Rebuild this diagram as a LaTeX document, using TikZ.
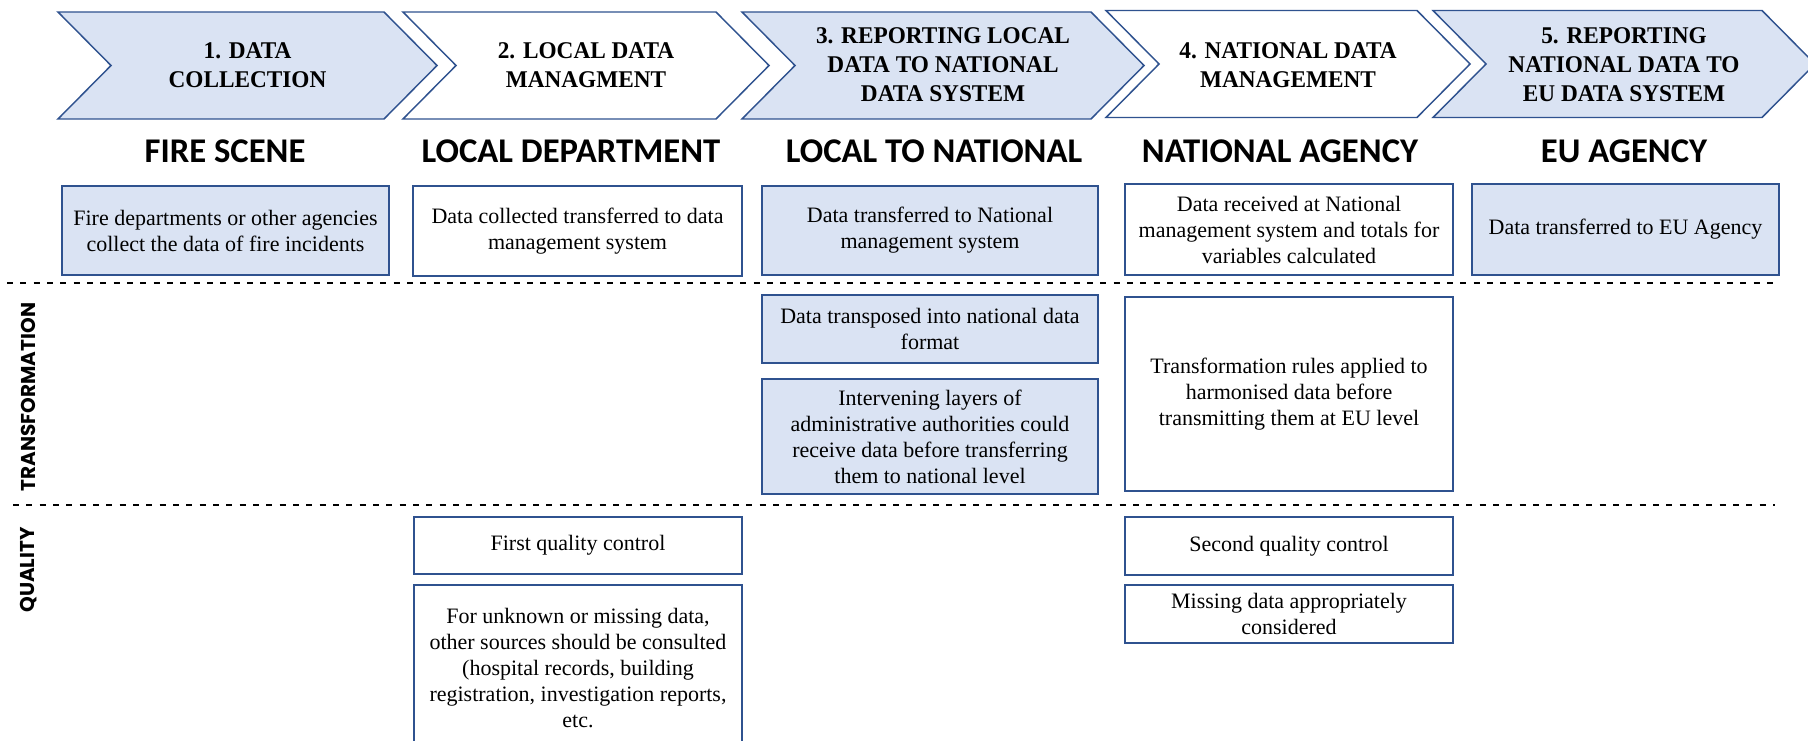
\documentclass[tikz,border=0pt]{standalone}
\usepackage{fontspec}
\setmainfont{Liberation Serif}[BoldFeatures={FakeStretch=0.97}]
\newfontfamily\headfont{Carlito}
\newfontfamily\sidefont{Poppins}
\definecolor{panelfill}{HTML}{DAE3F3}
\definecolor{paneldraw}{HTML}{2F528F}

% rectangular text panel given by its corners (in px)
\newcommand\panel[7]{%
  \pgfmathsetmacro\pw{(#4-#2)*0.75}%
  \pgfmathsetmacro\ph{(#5-#3)*0.75}%
  \node[panel, fill=#6, minimum width=\pw pt, minimum height=\ph pt]
    (#1) at ({(#2+#4)/2},{(#3+#5)/2}) {#7};%
}
% process chevron: name, left x, shoulder x, top y, bottom y, fill, label
\newcommand\chev[7]{%
  \pgfmathsetmacro\cmid{(#4+#5)/2}%
  \filldraw[chevline, fill=#6] (#2,#4) -- (#3,#4) -- ({#3+53},\cmid) -- (#3,#5)
    -- (#2,#5) -- ({#2+53},\cmid) -- cycle;
  \node[chevtext] (#1) at ({(#2+#3+53)/2},65) {#7};%
}

\tikzset{
  panel/.style={draw=paneldraw, line width=1.1pt, align=center, inner sep=0pt,
    font=\fontsize{16.5}{19.5}\selectfont},
  chevline/.style={draw=paneldraw, line width=1.1pt, line join=miter},
  chevtext/.style={align=center, inner sep=0pt,
    font=\fontsize{18}{21.75}\selectfont\bfseries},
  stage/.style={anchor=base, inner sep=0pt,
    font=\headfont\bfseries\fontsize{26}{30}\selectfont},
  sidelabel/.style={rotate=90, inner sep=0pt,
    font=\sidefont\bfseries\fontsize{15}{17}\selectfont},
  divider/.style={line width=0.9pt, dash pattern=on 4.5pt off 5.5pt},
}

\begin{document}
\begin{tikzpicture}[x=0.75pt, y=-0.75pt]
\useasboundingbox (0,0) rectangle (1808,741);
\clip (0,0) rectangle (1808,741);

% process steps
\chev{s1}{58}{384}{12}{119}{panelfill}{1. DATA\\COLLECTION}
\chev{s2}{403}{716}{12}{119}{white}{2. LOCAL DATA\\MANAGMENT}
\chev{s3}{742}{1091}{12}{119}{panelfill}{3. REPORTING LOCAL\\DATA TO NATIONAL\\DATA SYSTEM}
\chev{s4}{1106}{1417}{10.5}{117.5}{white}{4. NATIONAL DATA\\MANAGEMENT}
\chev{s5}{1433}{1762}{10.5}{117.5}{panelfill}{5. REPORTING\\NATIONAL DATA TO\\EU DATA SYSTEM}

% actors
\node[stage] (a1) at (225,163) {FIRE SCENE};
\node[stage] (a2) at (571,163) {LOCAL DEPARTMENT};
\node[stage] (a3) at (934,163) {LOCAL TO NATIONAL};
\node[stage] (a4) at (1280,163) {NATIONAL AGENCY};
\node[stage] (a5) at (1624,163) {EU AGENCY};

% main activities
\panel{m1}{62}{186}{389}{275}{panelfill}{Fire departments or other agencies\\collect the data of fire incidents}
\panel{m2}{413}{186}{742}{276}{white}{Data collected transferred to data\\management system}
\panel{m3}{762}{186}{1098}{275}{panelfill}{Data transferred to National\\management system}
\panel{m4}{1125}{184}{1453}{275}{white}{Data received at National\\management system and totals for\\variables calculated}
\panel{m5}{1472}{184}{1779}{275}{panelfill}{Data transferred to EU Agency}

% band dividers
\coordinate (d1a) at (7,283);   \coordinate (d1b) at (1775,283);
\coordinate (d2a) at (13,505);  \coordinate (d2b) at (1775,505);
\draw[divider] (d1a) -- (d1b);
\draw[divider] (d2a) -- (d2b);

% band labels
\node[sidelabel] (lt) at (28.5,397) {TRANSFORMATION};
\node[sidelabel] (lq) at (28.5,570) {QUALITY};

% transformation band
\panel{t1}{762}{295}{1098}{363}{panelfill}{Data transposed into national data\\format}
\panel{t2}{762}{379}{1098}{494}{panelfill}{Intervening layers of\\administrative authorities could\\receive data before transferring\\them to national level}
\panel{t3}{1125}{297}{1453}{491}{white}{Transformation rules applied to\\harmonised data before\\transmitting them at EU level}

% quality band
\panel{q1}{414}{517}{742}{574}{white}{First quality control}
\panel{q2}{414}{585}{742}{752}{white}{}
\node[panel, draw=none, anchor=north] (q2text) at (578,607)
  {For unknown or missing data,\\other sources should be consulted\\(hospital records, building\\registration, investigation reports,\\etc.};
\panel{q3}{1125}{517}{1453}{575}{white}{Second quality control}
\panel{q4}{1125}{585}{1453}{643}{white}{Missing data appropriately\\considered}
\end{tikzpicture}
\end{document}
